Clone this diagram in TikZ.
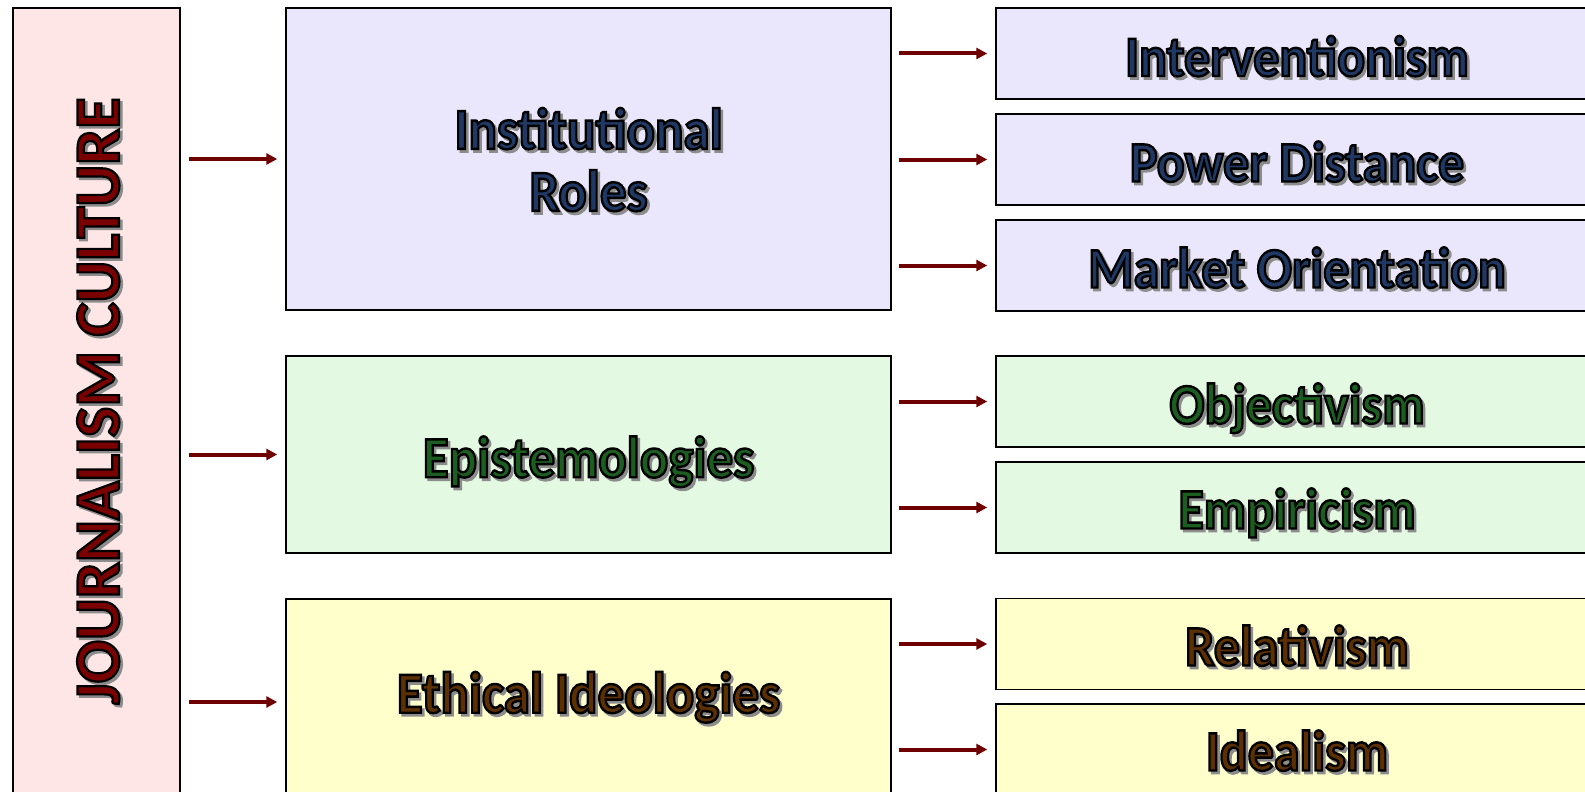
\documentclass[tikz,border=0pt]{standalone}
\usepackage{fontspec}
\setmainfont{Carlito}
\usepackage{graphicx}
\usetikzlibrary{arrows.meta}
\definecolor{pinkf}{HTML}{FFE6E6}
\definecolor{lilacf}{HTML}{EAE6FB}
\definecolor{greenf}{HTML}{E4F9E1}
\definecolor{yellowf}{HTML}{FFFFCC}
\definecolor{jred}{HTML}{7A0000}
\definecolor{navy}{HTML}{1F3864}
\definecolor{dgreen}{HTML}{1B5E20}
\definecolor{brownt}{HTML}{5C3000}
\definecolor{arrred}{HTML}{6E0000}
\definecolor{shadowc}{HTML}{8C8C8C}
% outlined text: fill in current colour, stroke in given rgb
\newcommand\olt[2]{\special{pdf:literal direct #1 RG 2 Tr 2.2 w}#2\special{pdf:literal direct 0 Tr}}
% text with outline and drop shadow (#3 = shadow kern, #4 = shadow raise)
\newcommand\fxgen[4]{\leavevmode\rlap{\kern#3\raisebox{#4}{\textcolor{shadowc}{\olt{0.55 0.55 0.55}{#2}}}}\textcolor{#1}{\olt{0 0 0}{#2}}}
\newcommand\fxt[2]{\scalebox{1}[1.1]{\fxgen{#1}{#2}{2.5pt}{-2.5pt}}}
\newcommand\fxr[2]{\fxgen{#1}{#2}{-2.5pt}{-2.5pt}}
\tikzset{
  box/.style={draw=black, line width=1.5pt, inner sep=0pt},
  rbox/.style={box, minimum width=602pt, minimum height=91pt},
  mbox/.style={box, minimum width=605pt},
  rlbl/.style={inner sep=0pt, text height=37pt, text depth=0pt, font=\fontsize{52}{60}\selectfont\bfseries},
  mlbl/.style={inner sep=0pt, text height=37.5pt, text depth=0pt, font=\fontsize{53}{62}\selectfont\bfseries},
  arr/.style={draw=arrred, line width=4pt, -{Triangle[length=11pt,width=11pt]}},
  larr/.style={arr, shorten <=8pt, shorten >=8pt},
  rarr/.style={arr, shorten <=7pt, shorten >=8pt}
}
\begin{document}
\begin{tikzpicture}[x=1pt,y=-1pt]
\useasboundingbox (0,0) rectangle (1585,792);
\clip (0,0) rectangle (1585,792);
% left box
\node[box, fill=pinkf, minimum width=167pt, minimum height=800pt] (jc) at (96.5,408) {};
\node[rotate=90, inner sep=0pt, text height=41pt, text depth=0pt, font=\fontsize{64}{70}\selectfont\bfseries] (jct) at (98.5,401) {\fxr{jred}{JOURNALISM CULTURE}};
% middle boxes
\node[mbox, fill=lilacf, minimum height=302pt] (m1) at (588.5,159) {};
\node[mbox, fill=greenf, minimum height=197pt] (m2) at (588.5,454.5) {};
\node[mbox, fill=yellowf, minimum height=206pt] (m3) at (588.5,702) {};
\node[inner sep=0pt, align=center, font=\fontsize{53}{62}\selectfont\bfseries] (m1t) at (588.5,161) {\fxt{navy}{Institutional}\\\fxt{navy}{Roles}};
\node[mlbl] (m2t) at (588.5,458.5) {\fxt{dgreen}{Epistemologies}};
\node[mlbl] (m3t) at (588.5,694) {\fxt{brownt}{Ethical Ideologies}};
% right boxes
\node[rbox, fill=lilacf] (ra) at (1297,53.5) {};
\node[rbox, fill=lilacf] (rb) at (1297,159.5) {};
\node[rbox, fill=lilacf] (rc) at (1297,265.5) {};
\node[rbox, fill=greenf] (rd) at (1297,401.5) {};
\node[rbox, fill=greenf] (re) at (1297,507.5) {};
\node[rbox, fill=yellowf] (rf) at (1297,644) {};
\node[rbox, fill=yellowf] (rg) at (1297,749.5) {};
\node[rlbl] (rat) at (1297,57.5) {\fxt{navy}{Interventionism}};
\node[rlbl] (rbt) at (1297,163) {\fxt{navy}{Power Distance}};
\node[rlbl] (rct) at (1297,269) {\fxt{navy}{Market Orientation}};
\node[rlbl] (rdt) at (1297,405) {\fxt{dgreen}{Objectivism}};
\node[rlbl] (ret) at (1297,510) {\fxt{dgreen}{Empiricism}};
\node[rlbl] (rft) at (1297,647) {\fxt{brownt}{Relativism}};
\node[rlbl] (rgt) at (1297,752) {\fxt{brownt}{Idealism}};
% arrows left
\draw[larr] (jc.east |- m1.west) -- (m1.west);
\draw[larr] (jc.east |- m2.west) -- (m2.west);
\draw[larr] (jc.east |- m3.west) -- (m3.west);
% arrows right
\draw[rarr] (m1.east |- ra.west) -- (ra.west);
\draw[rarr] (m1.east |- rb.west) -- (rb.west);
\draw[rarr] (m1.east |- rc.west) -- (rc.west);
\draw[rarr] (m2.east |- rd.west) -- (rd.west);
\draw[rarr] (m2.east |- re.west) -- (re.west);
\draw[rarr] (m3.east |- rf.west) -- (rf.west);
\draw[rarr] (m3.east |- rg.west) -- (rg.west);
\end{tikzpicture}
\end{document}
